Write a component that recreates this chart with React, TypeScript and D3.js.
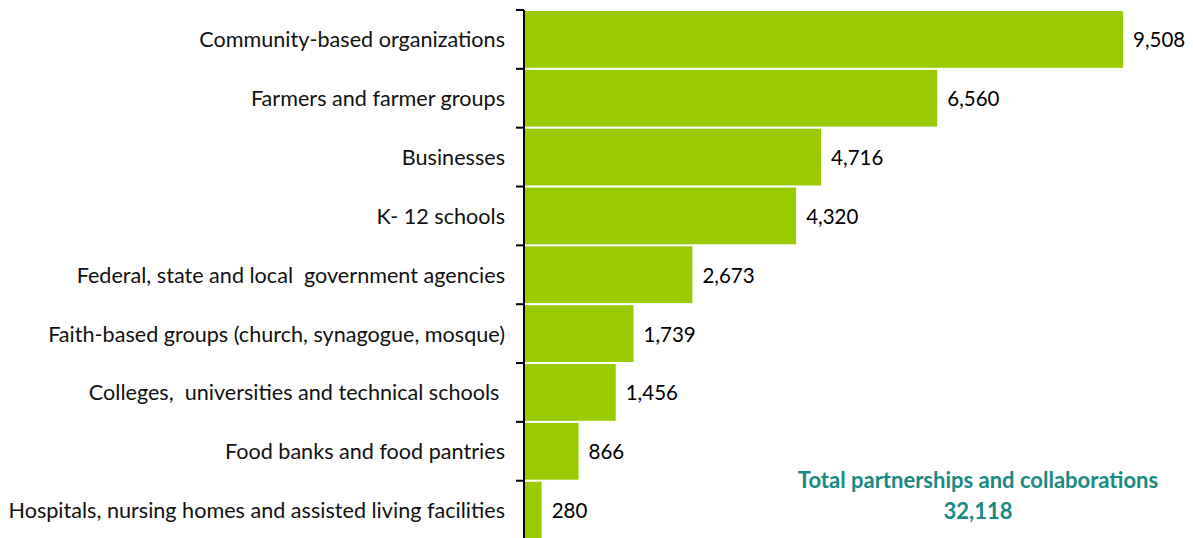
import React from "react";
import * as d3 from "d3";

const categories = [
  "Community-based organizations",
  "Farmers and farmer groups",
  "Businesses",
  "K- 12 schools",
  "Federal, state and local  government agencies",
  "Faith-based groups (church, synagogue, mosque)",
  "Colleges,  universities and technical schools ",
  "Food banks and food pantries",
  "Hospitals, nursing homes and assisted living facilities",
];
const values = [9508, 6560, 4716, 4320, 2673, 1739, 1456, 866, 280];
const totalLabel = "Total partnerships and collaborations";
const totalValue = "32,118";

const W = 1193;
const H = 538;
const FONT = "Lato, 'Open Sans', sans-serif";

export default function App() {
  const x0 = 524;
  const x = d3.scaleLinear().domain([0, 10000]).range([x0, x0 + 630]);
  const y = d3
    .scaleBand<string>()
    .domain(categories)
    .range([10, 537.5])
    .paddingInner(0.035)
    .paddingOuter(0.0);
  const step = y.step();
  const fmt = d3.format(",");
  const ticks = d3.range(categories.length + 1).map((i) => 10 + i * step);

  return (
    <svg
      width={W}
      height={H}
      style={{ position: "absolute", left: 0, top: 0, background: "#fff" }}
      fontFamily={FONT}
    >
      {categories.map((c, i) => (
        <g key={c}>
          <rect
            x={x0}
            y={y(c)! + 1}
            width={x(values[i]) - x0}
            height={y.bandwidth()}
            fill="#99cc00"
          />
          <text
            x={x(values[i]) + 10}
            y={y(c)! + step / 2 + 8}
            fontSize={20.5}
            fill="#000"
          >
            {fmt(values[i])}
          </text>
          <text
            x={505}
            y={y(c)! + step / 2 + 8}
            textAnchor="end"
            fontSize={21.6}
            fill="#111"
            style={{ whiteSpace: "pre" }}
          >
            {c}
          </text>
        </g>
      ))}
      <line x1={x0} x2={x0} y1={10} y2={H + 2} stroke="#000" strokeWidth={2} />
      {ticks.map((t, i) => (
        <line key={i} x1={516} x2={x0} y1={t} y2={t} stroke="#000" strokeWidth={2} />
      ))}
      <text
        x={978}
        y={488}
        textAnchor="middle"
        fontSize={22}
        fontWeight="bold"
        fill="#178a82"
      >
        {totalLabel}
      </text>
      <text
        x={978}
        y={519}
        textAnchor="middle"
        fontSize={22}
        fontWeight="bold"
        fill="#178a82"
      >
        {totalValue}
      </text>
    </svg>
  );
}
